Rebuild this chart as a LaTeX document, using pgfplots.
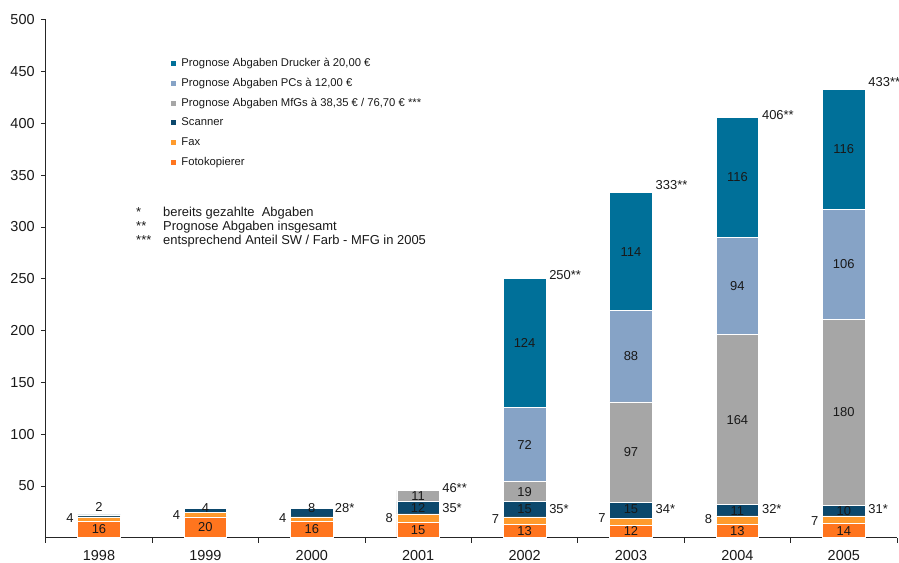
\documentclass[border=0pt]{standalone}
\usepackage{fontspec}
\setmainfont{Liberation Sans}
\usepackage{pgfplots}
\usepackage{pgfplotstable}
\pgfplotsset{compat=1.18}

\definecolor{kopier}{RGB}{255,117,30}
\definecolor{fax}{RGB}{255,155,45}
\definecolor{scanner}{RGB}{12,72,108}
\definecolor{mfg}{RGB}{166,166,166}
\definecolor{pcs}{RGB}{134,163,198}
\definecolor{drucker}{RGB}{0,112,153}

% Abgaben je Jahr (x = 0 ... 7 fuer 1998 ... 2005)
\pgfplotstableread{
x kopier fax scanner mfg pcs drucker
0 16 4 2  0   0   0
1 20 4 4  0   0   0
2 16 4 8  0   0   0
3 15 8 12 11  0   0
4 13 7 15 19  72  124
5 12 7 15 97  88  114
6 13 8 11 164 94  116
7 14 7 10 180 106 116
}\abgaben

% Beschriftungen in den Saeulen
\pgfplotstableread{
x y t
0 8 16
0 30 2
1 10 20
1 29 4
2 8 16
2 28.4 8
3 7.4 15
3 29 12
3 40 11
4 6.5 13
4 27.7 15
4 44.5 19
4 89.6 72
4 188 124
5 6.4 12
5 27.7 15
5 83 97
5 175 88
5 276 114
6 6.5 13
6 26 11
6 114 164
6 243 94
6 348 116
7 6.9 14
7 26 10
7 121 180
7 264 106
7 375 116
}\innen

% Fax-Werte links der Saeulen
\pgfplotstableread{
x y t
-0.237 19 4
0.763 22 4
1.763 19 4
2.763 19 8
3.763 18 7
4.763 19 7
5.763 18 8
6.763 16 7
}\links

% Summen rechts der Saeulen
\pgfplotstableread{
x y t
2.215 28.5 28*
3.225 28.4 35*
3.225 47.8 46**
4.23 27.7 35*
4.23 254 250**
5.23 27.7 34*
5.23 340 333**
6.23 27.7 32*
6.23 408 406**
7.23 27.7 31*
7.23 440 433**
}\rechts

\begin{document}
\begin{tikzpicture}
\begin{axis}[
  at={(0,0)}, anchor=south west,
  scale only axis, width=851.2bp, height=518bp,
  ybar stacked, bar width=0.4,
  xmin=-0.5, xmax=7.5, ymin=0, ymax=500,
  axis x line*=bottom, axis y line*=left,
  axis line style={line width=0.8bp, black!85},
  xtick={0,...,7},
  xticklabels={1998,1999,2000,2001,2002,2003,2004,2005},
  minor xtick={-0.5,0.5,...,7.5},
  tick align=outside,
  major tick length=5bp, minor tick length=5bp,
  tick style={line width=0.8bp, black!85},
  major x tick style={draw=none},
  ytick={50,100,...,500},
  ticklabel style={font=\fontsize{14.5}{16}\selectfont, black!90},
  xticklabel style={yshift=-4bp},
  yticklabel style={xshift=-2.7bp},
  /pgf/number format/assume math mode=true,
  reverse legend,
  legend cell align=left,
  legend image code/.code={\fill[#1,draw=none] (0bp,-2.5bp) rectangle (5bp,2.5bp); \path (10bp,0bp);},
  legend style={at={(rel axis cs:0.147,0.926)}, anchor=north west,
    draw=none, fill=none, inner sep=0pt, row sep=8.7bp,
    font=\fontsize{11.3}{13}\selectfont, text=black!90,
    nodes={inner sep=0pt, text height=8.5bp, text depth=2.5bp}},
  clip=false,
]
\addplot[fill=kopier, draw=white, line width=0.7bp] table[x=x, y=kopier]{\abgaben};
\addlegendentry{Fotokopierer}
\addplot[fill=fax, draw=white, line width=0.7bp] table[x=x, y=fax]{\abgaben};
\addlegendentry{Fax}
\addplot[fill=scanner, draw=white, line width=0.7bp] table[x=x, y=scanner]{\abgaben};
\addlegendentry{Scanner}
\addplot[fill=mfg, draw=white, line width=0.7bp] table[x=x, y=mfg]{\abgaben};
\addlegendentry{Prognose Abgaben MfGs à 38,35 € / 76,70 € ***}
\addplot[fill=pcs, draw=white, line width=0.7bp] table[x=x, y=pcs]{\abgaben};
\addlegendentry{Prognose Abgaben PCs à 12,00 €}
\addplot[fill=drucker, draw=white, line width=0.7bp] table[x=x, y=drucker]{\abgaben};
\addlegendentry{Prognose Abgaben Drucker à 20,00 €}

\node[anchor=north west, inner sep=0pt, align=left, text=black!90,
      font=\fontsize{13}{14}\selectfont] at (rel axis cs:0.106,0.6385)
  {\makebox[27bp][l]{*}bereits gezahlte\ \ Abgaben\\
   \makebox[27bp][l]{**}Prognose Abgaben insgesamt\\
   \makebox[27bp][l]{***}entsprechend Anteil SW / Farb - MFG in 2005};
\end{axis}

\begin{axis}[
  at={(0,0)}, anchor=south west,
  scale only axis, width=851.2bp, height=518bp,
  xmin=-0.5, xmax=7.5, ymin=0, ymax=500,
  hide axis, clip=false,
  nodes near coords,
  point meta=explicit symbolic,
  every node near coord/.append style={inner sep=0pt, text=black!90,
    font=\fontsize{13}{15}\selectfont},
]
\addplot[only marks, mark=none, every node near coord/.append style={anchor=center}]
  table[x=x, y=y, meta=t]{\innen};
\addplot[only marks, mark=none, every node near coord/.append style={anchor=east}]
  table[x=x, y=y, meta=t]{\links};
\addplot[only marks, mark=none, every node near coord/.append style={anchor=west}]
  table[x=x, y=y, meta=t]{\rechts};
\end{axis}

\pgfresetboundingbox
\path[use as bounding box] (-45.8bp,-25.3bp) rectangle (853.2bp,537.7bp);
\end{tikzpicture}
\end{document}
